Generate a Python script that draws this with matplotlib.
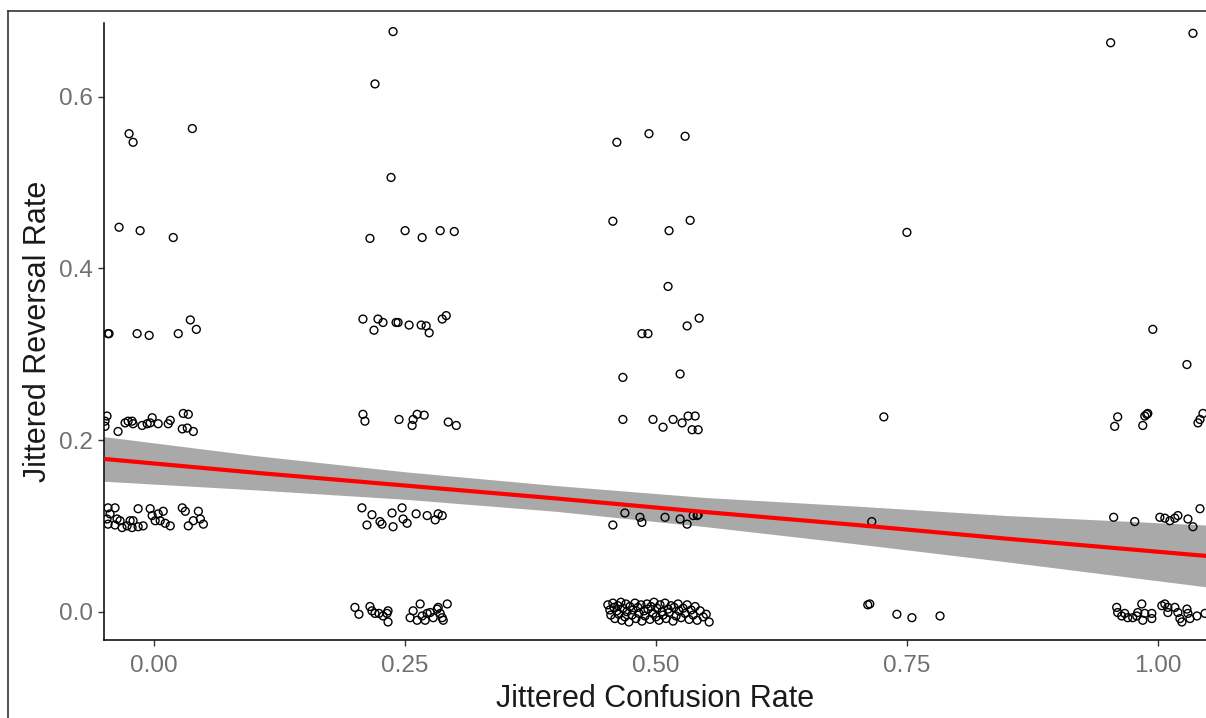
import numpy as np
import matplotlib
matplotlib.use("Agg")
from matplotlib import pyplot as plt
from matplotlib.lines import Line2D

plt.rcParams['font.family'] = ['Liberation Sans', 'DejaVu Sans']

# jittered points, grouped by confusion rate level
conf_000 = [-0.046, -0.039, -0.044, -0.047, -0.037, -0.046, -0.039, -0.034, -0.032, -0.027,
            -0.024, -0.022, -0.021, -0.016, -0.016, -0.011, -0.004, -0.002, 0.001, 0.004,
            0.006, 0.009, 0.011, 0.016, 0.028, 0.031, 0.034, 0.039, 0.044, 0.046, 0.049,
            -0.047, -0.049, -0.049, -0.036, -0.029, -0.026, -0.022, -0.021, -0.012, -0.007,
            -0.002, -0.004, 0.004, 0.014, 0.016, 0.029, 0.034, 0.028, 0.033, 0.039,
            -0.046, -0.045, -0.017, -0.005, 0.024, 0.036, 0.042,
            -0.035, -0.014, 0.019,
            -0.025, -0.021, 0.038]
rev_000 = [0.121, 0.121, 0.114, 0.108, 0.108, 0.102, 0.101, 0.106, 0.098, 0.100,
           0.106, 0.098, 0.106, 0.120, 0.099, 0.100, 0.120, 0.112, 0.106, 0.114,
           0.106, 0.117, 0.103, 0.100, 0.121, 0.117, 0.100, 0.106, 0.117, 0.108, 0.102,
           0.228, 0.222, 0.216, 0.210, 0.220, 0.222, 0.222, 0.219, 0.217, 0.219,
           0.226, 0.220, 0.219, 0.219, 0.223, 0.231, 0.230, 0.213, 0.214, 0.210,
           0.324, 0.324, 0.324, 0.322, 0.324, 0.340, 0.329,
           0.448, 0.444, 0.436,
           0.557, 0.547, 0.563]

conf_025 = [0.238, 0.220, 0.236,
            0.215, 0.250, 0.267, 0.285, 0.299,
            0.208, 0.219, 0.223, 0.228, 0.241, 0.243, 0.254, 0.266, 0.271, 0.274, 0.287, 0.291,
            0.208, 0.210, 0.244, 0.257, 0.258, 0.262, 0.269, 0.293, 0.301,
            0.207, 0.217, 0.212, 0.225, 0.227, 0.237, 0.238, 0.247, 0.248, 0.252, 0.261,
            0.272, 0.280, 0.283, 0.287,
            0.200, 0.204, 0.215, 0.217, 0.220, 0.224, 0.228, 0.232, 0.233, 0.233,
            0.255, 0.258, 0.265, 0.262, 0.267, 0.270, 0.272, 0.275, 0.278, 0.282, 0.285,
            0.283, 0.288, 0.292, 0.287]
rev_025 = [0.676, 0.615, 0.506,
           0.435, 0.444, 0.436, 0.444, 0.443,
           0.341, 0.328, 0.341, 0.337, 0.337, 0.337, 0.334, 0.334, 0.333, 0.325, 0.341, 0.345,
           0.230, 0.222, 0.224, 0.217, 0.224, 0.230, 0.229, 0.221, 0.217,
           0.121, 0.113, 0.101, 0.105, 0.102, 0.115, 0.099, 0.121, 0.108, 0.103, 0.114,
           0.112, 0.107, 0.114, 0.112,
           0.005, -0.003, 0.006, 0.001, -0.002, -0.002, -0.005, -0.002, -0.012, 0.001,
           -0.007, 0.001, 0.009, -0.010, -0.005, -0.010, -0.002, -0.001, -0.007, 0.003, -0.002,
           0.005, -0.010, 0.009, -0.007]

conf_050 = [0.461, 0.493, 0.529, 0.457, 0.513, 0.534, 0.512,
            0.486, 0.492, 0.531, 0.543, 0.467, 0.524,
            0.467, 0.497, 0.507, 0.517, 0.526, 0.532, 0.539, 0.536, 0.542,
            0.469, 0.457, 0.484, 0.486, 0.509, 0.524, 0.531, 0.537, 0.541, 0.542,
            0.452, 0.454, 0.455, 0.457, 0.458, 0.459, 0.461, 0.462, 0.463, 0.465,
            0.466, 0.467, 0.469, 0.470, 0.471, 0.473, 0.474, 0.476, 0.477, 0.479,
            0.480, 0.482, 0.483, 0.485, 0.486, 0.488, 0.489, 0.491, 0.492, 0.494,
            0.495, 0.497, 0.498, 0.500, 0.501, 0.503, 0.504, 0.506, 0.507, 0.509,
            0.510, 0.512, 0.513, 0.515, 0.517, 0.518, 0.520, 0.522, 0.523, 0.525,
            0.527, 0.529, 0.531, 0.533, 0.535, 0.537, 0.539, 0.541, 0.544, 0.547,
            0.550, 0.553]
rev_050 = [0.547, 0.557, 0.554, 0.455, 0.444, 0.456, 0.379,
           0.324, 0.324, 0.333, 0.342, 0.273, 0.277,
           0.224, 0.224, 0.215, 0.224, 0.220, 0.228, 0.228, 0.212, 0.212,
           0.115, 0.101, 0.110, 0.104, 0.110, 0.108, 0.102, 0.112, 0.112, 0.113,
           0.008, 0.002, -0.004, 0.010, 0.005, -0.008, 0.001, 0.007, -0.003, 0.011,
           -0.010, 0.004, -0.006, 0.009, 0.000, -0.012, 0.006, -0.004, 0.002, 0.010,
           -0.008, 0.005, -0.002, 0.008, -0.011, 0.001, -0.005, 0.009, 0.003, -0.009,
           0.006, -0.002, 0.011, -0.006, 0.004, -0.010, 0.008, 0.000, -0.004, 0.010,
           -0.008, 0.003, -0.001, 0.007, -0.011, 0.005, -0.005, 0.009, 0.001, -0.007,
           0.004, -0.002, 0.008, -0.009, 0.002, -0.004, 0.006, -0.010, 0.001, -0.006,
           -0.003, -0.012]

conf_075 = [0.711, 0.713, 0.740, 0.755, 0.783, 0.715, 0.727, 0.750]
rev_075 = [0.008, 0.009, -0.003, -0.007, -0.005, 0.105, 0.227, 0.442]

conf_100 = [0.953, 1.035, 0.995, 1.029,
            0.957, 0.960, 0.985, 0.989, 0.987, 0.990, 1.040, 1.042, 1.045,
            0.956, 0.977, 1.002, 1.007, 1.012, 1.017, 1.020, 1.030, 1.035, 1.042,
            0.959, 0.960, 0.964, 0.967, 0.970, 0.975, 0.979, 0.980, 0.984, 0.985,
            0.987, 0.994, 0.994, 1.004, 1.007, 1.010, 1.010, 1.017, 1.020, 1.022,
            1.024, 1.029, 1.030, 1.032, 1.039, 1.047]
rev_100 = [0.663, 0.674, 0.329, 0.288,
           0.216, 0.227, 0.217, 0.230, 0.228, 0.231, 0.220, 0.224, 0.231,
           0.110, 0.105, 0.110, 0.109, 0.106, 0.109, 0.112, 0.108, 0.099, 0.120,
           0.005, -0.001, -0.005, -0.002, -0.007, -0.007, -0.005, -0.001, 0.009, -0.010,
           -0.002, -0.002, -0.008, 0.007, 0.009, 0.005, -0.001, 0.005, -0.001, -0.008,
           -0.012, 0.003, -0.002, -0.008, -0.005, -0.002]

# linear fit with confidence band
fit_x = [-0.05, 0.10, 0.25, 0.40, 0.55, 0.70, 0.85, 1.048]
fit_y = [0.178, 0.162, 0.147, 0.132, 0.116, 0.101, 0.085, 0.065]
fit_lo = [0.152, 0.142, 0.131, 0.117, 0.099, 0.079, 0.058, 0.029]
fit_hi = [0.204, 0.182, 0.163, 0.147, 0.133, 0.123, 0.112, 0.101]

conf = conf_000 + conf_025 + conf_050 + conf_075 + conf_100
rev = rev_000 + rev_025 + rev_050 + rev_075 + rev_100

fig = plt.figure(figsize=(12.06, 7.18), dpi=100)
ax = fig.add_axes([104/1206, 78/718, 1 - 104/1206, 617/718])

ax.fill_between(fit_x, fit_lo, fit_hi, color='#a9a9a9', linewidth=0, zorder=1)
ax.scatter(conf, rev, s=32, facecolors='none', edgecolors='black', linewidths=1.0, zorder=2)
ax.plot(fit_x, fit_y, color='red', linewidth=3, zorder=3)

ax.set_xlim(-0.05, 1.048)
ax.set_ylim(-0.033, 0.686)
ax.set_xticks([0.0, 0.25, 0.5, 0.75, 1.0])
ax.set_xticklabels(['0.00', '0.25', '0.50', '0.75', '1.00'])
ax.set_yticks([0.0, 0.2, 0.4, 0.6])
ax.set_yticklabels(['0.0', '0.2', '0.4', '0.6'])

for side in ['top', 'right']:
    ax.spines[side].set_visible(False)
for side in ['left', 'bottom']:
    ax.spines[side].set_linewidth(1.1)
ax.tick_params(axis='x', pad=7)
ax.tick_params(length=4, width=1, color='#333333', labelsize=17.5,
               labelcolor='#707070')
ax.tick_params(axis='y', pad=4)

ax.set_xlabel('Jittered Confusion Rate', fontsize=22, color='#1a1a1a', labelpad=5)
ax.set_ylabel('Jittered Reversal Rate', fontsize=22, color='#1a1a1a', labelpad=4)

# outer frame of the screenshot
fig.add_artist(Line2D([8/1206, 8/1206], [0, 1 - 11/718], transform=fig.transFigure,
                      color='#333333', linewidth=1.2))
fig.add_artist(Line2D([8/1206, 1], [1 - 11/718, 1 - 11/718], transform=fig.transFigure,
                      color='#333333', linewidth=1.2))

fig.savefig('out.png', dpi=100)
